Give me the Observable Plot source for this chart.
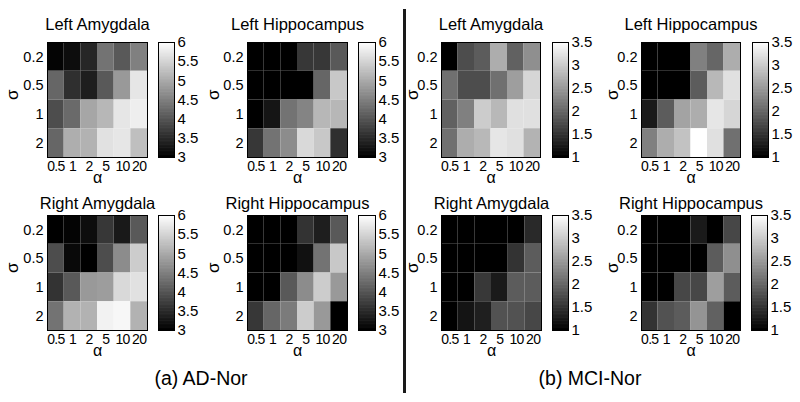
<!DOCTYPE html>
<html><head><meta charset="utf-8">
<script src="https://cdn.jsdelivr.net/npm/d3@7"></script>
<script src="https://cdn.jsdelivr.net/npm/@observablehq/plot@0.6"></script>
<style>
body{margin:0;background:#fff;}
#chart{position:relative;width:800px;height:402px;overflow:hidden;background:#fff;font-family:"Liberation Sans",Arial,Helvetica,sans-serif;}
#chart svg{position:absolute;}
#chart svg .xticks text{letter-spacing:-0.7px;}
.cap{position:absolute;font-size:19.5px;color:#000;white-space:nowrap;transform:translateX(-50%);line-height:1;}
.divider{position:absolute;left:403px;top:9px;width:2.5px;height:384px;background:#1a1a1a;}
</style></head><body><div id="chart"></div>
<script>
// ---- data ----
const alphaLabels = ["0.5","1","2","5","10","20"];
const sigmaLabels = ["0.2","0.5","1","2"];
const adTicks = [3,3.5,4,4.5,5,5.5,6];
const mciTicks = [1,1.5,2,2.5,3,3.5];
// rows: sigma 0.2, 0.5, 1, 2 ; columns: alpha 0.5, 1, 2, 5, 10, 20
const adLeftAmygdala = [
  [3.05,3.15,3.45,4.35,4.05,4.5],
  [4.2,3.55,3.35,4.05,4.8,5.7],
  [3.9,4.25,4.95,5.15,5.7,5.8],
  [4.2,5.05,5.1,5.65,5.7,5.25]];
const adLeftHippocampus = [
  [3,3,3,3.65,3.65,4.05],
  [3,3,3,3,4.2,5.35],
  [3,3.25,4.35,4.55,5.15,5.15],
  [3.65,4.35,4.65,5.55,5.35,3.55]];
const adRightAmygdala = [
  [3.0,3.05,3.15,3.65,3.3,4.05],
  [3.9,3.1,3.0,3.9,4.65,5.4],
  [3.6,4.05,4.8,4.85,5.55,5.65],
  [4.35,5.1,5.1,5.85,5.9,5.1]];
const adRightHippocampus = [
  [3,3,3,3.6,3.35,4.05],
  [3,3,3,3.2,4.35,5.35],
  [3,3,4.05,4.65,5.4,4.8],
  [3.65,4.2,4.45,5.4,4.8,3.0]];
const mciLeftAmygdala = [
  [1.0,1.75,1.9,2.7,1.95,2.4],
  [2.1,1.75,1.75,2.1,2.55,3.1],
  [1.95,2.25,3.0,2.8,3.2,3.2],
  [2.1,2.7,2.8,3.25,3.2,2.75]];
const mciLeftHippocampus = [
  [1,1,1,2.25,2.0,2.7],
  [1,1,1,1.9,2.8,3.2],
  [1.25,1.9,2.6,2.7,3.25,3.1],
  [2.25,2.7,2.9,3.5,3.2,2.1]];
const mciRightAmygdala = [
  [1,1,1,1,1,1.4],
  [1,1,1,1,1.5,1.9],
  [1,1,1.55,1.25,1.9,1.9],
  [1,1.2,1.3,1.8,1.8,1.7]];
const mciRightHippocampus = [
  [1,1,1,1.25,1,1.7],
  [1,1,1,1,1.9,2.4],
  [1,1,1.7,1.7,2.55,1.9],
  [1.5,1.8,1.9,2.45,1.95,1.0]];
const adDomain = [3,6];
const mciDomain = [1,3.5];

// ---- layout ----
const FONT = '"Liberation Sans",Arial,Helvetica,sans-serif';
const panels = [
  {title:"Left Amygdala", values:adLeftAmygdala, domain:adDomain, ticks:adTicks, frame:[47,42,100,115], cb:[158,42,16,115], titleGap:13, sigmaDx:-35},
  {title:"Left Hippocampus", values:adLeftHippocampus, domain:adDomain, ticks:adTicks, frame:[247,42,100,115], cb:[358,42,17,115], titleGap:13, sigmaDx:-34},
  {title:"Right Amygdala", values:adRightAmygdala, domain:adDomain, ticks:adTicks, frame:[47,215,100,115], cb:[158,215,16,115], titleGap:7, sigmaDx:-35},
  {title:"Right Hippocampus", values:adRightHippocampus, domain:adDomain, ticks:adTicks, frame:[247,215,100,115], cb:[358,215,17,115], titleGap:7, sigmaDx:-34},
  {title:"Left Amygdala", values:mciLeftAmygdala, domain:mciDomain, ticks:mciTicks, frame:[441,42,99,115], cb:[552,42,16,115], titleGap:13, sigmaDx:-29},
  {title:"Left Hippocampus", values:mciLeftHippocampus, domain:mciDomain, ticks:mciTicks, frame:[641,42,99,115], cb:[752,42,16,115], titleGap:13, sigmaDx:-29},
  {title:"Right Amygdala", values:mciRightAmygdala, domain:mciDomain, ticks:mciTicks, frame:[441,215,100,115], cb:[552,215,16,115], titleGap:7, sigmaDx:-29},
  {title:"Right Hippocampus", values:mciRightHippocampus, domain:mciDomain, ticks:mciTicks, frame:[641,215,99,115], cb:[751,215,16,115], titleGap:7, sigmaDx:-29}
];

const chart = document.getElementById("chart");

function heatmap(p){
  const mL=50,mR=6,mT=40,mB=40;
  const [fx,fy,fw,fh]=p.frame;
  const data=[];
  p.values.forEach((row,i)=>row.forEach((v,j)=>data.push({a:alphaLabels[j],s:sigmaLabels[i],v})));
  const svg = Plot.plot({
    width:fw+mL+mR, height:fh+mT+mB,
    marginLeft:mL, marginRight:mR, marginTop:mT, marginBottom:mB,
    style:{fontFamily:FONT, fontSize:"14.5px", color:"#000", background:"transparent", overflow:"visible"},
    x:{domain:alphaLabels, padding:0, round:false},
    y:{domain:sigmaLabels, padding:0, round:false},
    color:{type:"linear", domain:p.domain, range:["#000","#fff"], clamp:true},
    marks:[
      Plot.cell(data,{x:"a",y:"s",fill:"v",inset:0}),
      Plot.frame({stroke:"#000",strokeWidth:1}),
      Plot.axisX({tickSize:0, tickPadding:4, fontSize:14, label:null, className:"xticks"}),
      Plot.axisY({tickSize:0, tickPadding:4, label:null}),
      Plot.text([p.title],{text:d=>d, frameAnchor:"top", lineAnchor:"bottom", dy:-p.titleGap, fontSize:16.5, fill:"#000"}),
      Plot.text(["α"],{text:d=>d, frameAnchor:"bottom", lineAnchor:"bottom", dy:25.5, fontSize:16, fill:"#000"}),
      Plot.text(["σ"],{text:d=>d, frameAnchor:"left", lineAnchor:"middle", dx:p.sigmaDx, rotate:-90, fontSize:17, fill:"#000"})
    ]
  });
  svg.style.left=(fx-mL)+"px"; svg.style.top=(fy-mT)+"px";
  chart.appendChild(svg);
}

function colorbar(p){
  const mL=1,mR=32,mT=10,mB=10;
  const [cx,cy,cw,ch]=p.cb;
  const [lo,hi]=p.domain;
  const n=150, step=(hi-lo)/n;
  const stops=d3.range(n).map(i=>lo+i*step);
  const svg = Plot.plot({
    width:cw+mL+mR, height:ch+mT+mB,
    marginLeft:mL, marginRight:mR, marginTop:mT, marginBottom:mB,
    style:{fontFamily:FONT, fontSize:"15px", color:"#000", background:"transparent", overflow:"visible"},
    x:{domain:[0,1], axis:null},
    y:{domain:p.domain, axis:"right", ticks:p.ticks, tickFormat:d=>String(d), tickSize:0, tickPadding:3, label:null},
    color:{type:"linear", domain:p.domain, range:["#000","#fff"], clamp:true},
    marks:[
      Plot.rect(stops,{x1:0,x2:1,y1:d=>d,y2:d=>Math.min(hi,d+step*1.8),fill:d=>d+step/2,inset:0}),
      Plot.frame({stroke:"#000",strokeWidth:1})
    ]
  });
  svg.style.left=(cx-mL)+"px"; svg.style.top=(cy-mT)+"px";
  chart.appendChild(svg);
}

panels.forEach(p=>{heatmap(p);colorbar(p);});

const div=document.createElement("div"); div.className="divider"; chart.appendChild(div);
[["(a) AD-Nor",201],["(b) MCI-Nor",590]].forEach(([t,x])=>{
  const c=document.createElement("div"); c.className="cap"; c.textContent=t;
  c.style.left=x+"px"; c.style.top="369px"; chart.appendChild(c);
});
</script></body></html>
